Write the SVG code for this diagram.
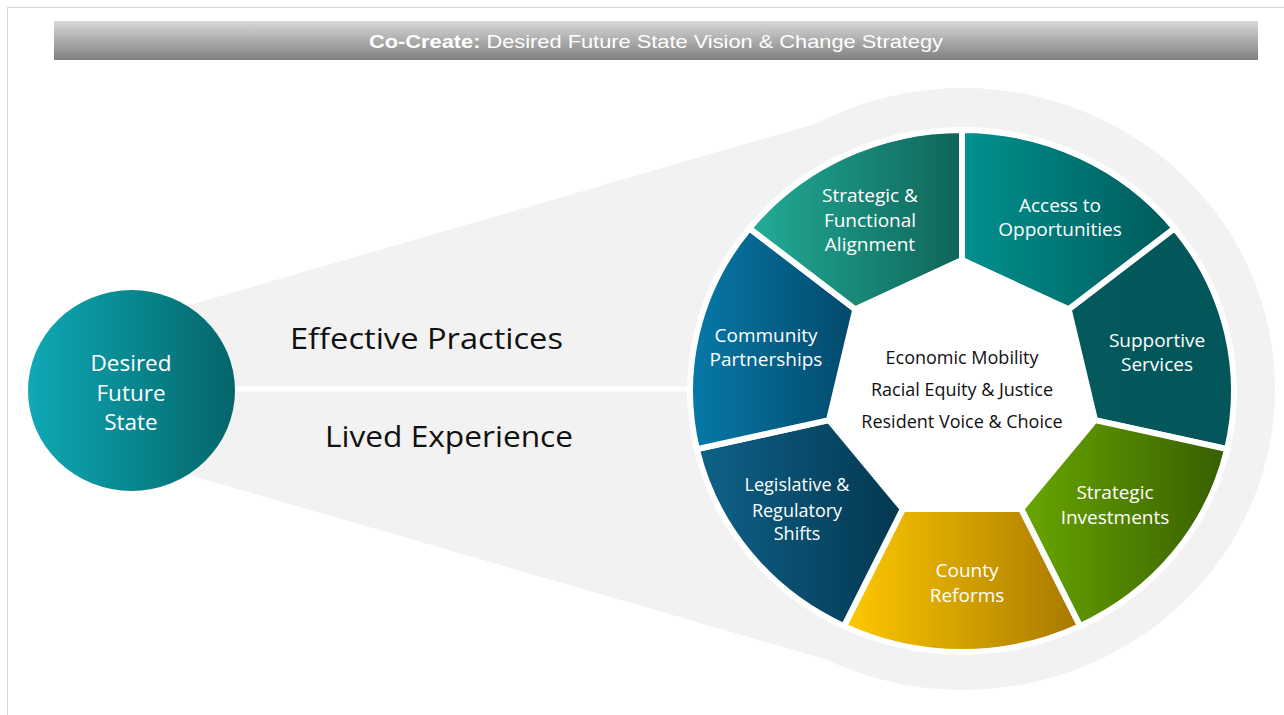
<svg xmlns="http://www.w3.org/2000/svg" width="1284" height="715" viewBox="0 0 1284 715">
  <defs>
    <linearGradient id="gTitle" x1="0" y1="0" x2="0" y2="1">
      <stop offset="0" stop-color="#d9d9d9"/>
      <stop offset="1" stop-color="#7f7f7f"/>
    </linearGradient>
    <linearGradient id="gHub" x1="0" y1="0" x2="1" y2="0">
      <stop offset="0" stop-color="#0fa9b5"/>
      <stop offset="1" stop-color="#04656a"/>
    </linearGradient>
    <linearGradient id="gAlign" x1="0" y1="0" x2="1" y2="0">
      <stop offset="0" stop-color="#22ad97"/>
      <stop offset="1" stop-color="#0f6458"/>
    </linearGradient>
    <linearGradient id="gAccess" x1="0" y1="0" x2="1" y2="0">
      <stop offset="0" stop-color="#00918f"/>
      <stop offset="1" stop-color="#01595a"/>
    </linearGradient>
    <linearGradient id="gSupport" x1="0" y1="0" x2="1" y2="0">
      <stop offset="0" stop-color="#03595b"/>
      <stop offset="1" stop-color="#02565a"/>
    </linearGradient>
    <linearGradient id="gInvest" x1="0" y1="0" x2="1" y2="0">
      <stop offset="0" stop-color="#69a700"/>
      <stop offset="1" stop-color="#375d00"/>
    </linearGradient>
    <linearGradient id="gCounty" x1="0" y1="0" x2="1" y2="0">
      <stop offset="0" stop-color="#ffc900"/>
      <stop offset="1" stop-color="#a77800"/>
    </linearGradient>
    <linearGradient id="gLegis" x1="0" y1="0" x2="1" y2="0">
      <stop offset="0" stop-color="#0f628a"/>
      <stop offset="1" stop-color="#03374f"/>
    </linearGradient>
    <linearGradient id="gCommunity" x1="0" y1="0" x2="1" y2="0">
      <stop offset="0" stop-color="#067aa9"/>
      <stop offset="1" stop-color="#03486a"/>
    </linearGradient>
  </defs>
  <style>
    .seg { stroke: #ffffff; stroke-width: 6; stroke-linejoin: miter; }
    .lbl { font-family: "Open Sans", "Noto Sans", "Liberation Sans", sans-serif; fill: #ffffff; font-size: 19px; text-anchor: middle; }
    .lbl.hub { font-size: 22.5px; }
    .lbl.small { font-size: 18px; }
    .core { font-family: "Open Sans", "Noto Sans", "Liberation Sans", sans-serif; fill: #111111; font-size: 18px; text-anchor: middle; }
    .big { font-family: "Open Sans", "Noto Sans", "Liberation Sans", sans-serif; fill: #111111; font-size: 29px; }
  </style>

  <!-- page -->
  <rect x="0" y="0" width="1284" height="715" fill="#ffffff"/>
  <rect x="7.5" y="7.5" width="1300" height="730" fill="none" stroke="#d6d6d6" stroke-width="1"/>

  <!-- title banner -->
  <g id="title">
    <rect x="54" y="21" width="1204" height="39" fill="url(#gTitle)"/>
    <text x="656" y="48" font-family="'Liberation Sans', Arial, sans-serif" font-size="19" fill="#ffffff" text-anchor="middle" textLength="574" lengthAdjust="spacingAndGlyphs"><tspan font-weight="bold">Co-Create:</tspan> Desired Future State Vision &amp; Change Strategy</text>
  </g>

  <!-- backdrop: funnel and halo -->
  <g id="backdrop" fill="#f2f2f2">
    <ellipse cx="963" cy="389" rx="312" ry="301"/>
    <polygon points="131,322 880,105 962,389 880,675 131,458"/>
  </g>

  <!-- connectors -->
  <g id="connectors">
    <line x1="200" y1="389" x2="700" y2="389" stroke="#ffffff" stroke-width="5"/>
  </g>

  <!-- source node -->
  <g id="node-desired-future-state">
    <ellipse cx="131.5" cy="390.5" rx="103.5" ry="100.5" fill="url(#gHub)"/>
    <text class="lbl hub" x="131" y="371">Desired</text>
    <text class="lbl hub" x="131" y="401">Future</text>
    <text class="lbl hub" x="131" y="430">State</text>
  </g>

  <g id="label-effective-practices">
    <text class="big" x="290" y="349" textLength="273" lengthAdjust="spacingAndGlyphs">Effective Practices</text>
  </g>
  <g id="label-lived-experience">
    <text class="big" x="325" y="447" textLength="248" lengthAdjust="spacingAndGlyphs">Lived Experience</text>
  </g>

  <!-- wheel hub (white heptagon) -->
  <polygon fill="#ffffff" points="962,260 1068.72,309.32 1095.08,420.15 1021.23,509.03 902.77,509.03 828.92,420.15 855.28,309.32"/>

  <!-- wheel segments -->
  <g id="node-access-to-opportunities">
    <path class="seg" fill="url(#gAccess)" d="M962,260 L962,130 A271.96,261 0 0 1 1174.63,228.27 L1068.72,309.32 Z"/>
    <text class="lbl" x="1060" y="212">Access to</text>
    <text class="lbl" x="1060" y="236">Opportunities</text>
  </g>
  <g id="node-supportive-services">
    <path class="seg" fill="url(#gSupport)" d="M1068.72,309.32 L1174.63,228.27 A271.96,261 0 0 1 1227.14,449.08 L1095.08,420.15 Z"/>
    <text class="lbl" x="1157" y="347">Supportive</text>
    <text class="lbl" x="1157" y="371">Services</text>
  </g>
  <g id="node-strategic-investments">
    <path class="seg" fill="url(#gInvest)" d="M1095.08,420.15 L1227.14,449.08 A271.96,261 0 0 1 1080,626.15 L1021.23,509.03 Z"/>
    <text class="lbl" x="1115" y="499">Strategic</text>
    <text class="lbl" x="1115" y="524">Investments</text>
  </g>
  <g id="node-county-reforms">
    <path class="seg" fill="url(#gCounty)" d="M1021.23,509.03 L1080,626.15 A271.96,261 0 0 1 844,626.15 L902.77,509.03 Z"/>
    <text class="lbl" x="967" y="577">County</text>
    <text class="lbl" x="967" y="602">Reforms</text>
  </g>
  <g id="node-legislative-regulatory-shifts">
    <path class="seg" fill="url(#gLegis)" d="M902.77,509.03 L844,626.15 A271.96,261 0 0 1 696.86,449.08 L828.92,420.15 Z"/>
    <text class="lbl small" x="797" y="491">Legislative &amp;</text>
    <text class="lbl small" x="797" y="517">Regulatory</text>
    <text class="lbl small" x="797" y="540">Shifts</text>
  </g>
  <g id="node-community-partnerships">
    <path class="seg" fill="url(#gCommunity)" d="M828.92,420.15 L696.86,449.08 A271.96,261 0 0 1 749.37,228.27 L855.28,309.32 Z"/>
    <text class="lbl" x="766" y="342">Community</text>
    <text class="lbl" x="766" y="366">Partnerships</text>
  </g>
  <g id="node-strategic-functional-alignment">
    <path class="seg" fill="url(#gAlign)" d="M855.28,309.32 L749.37,228.27 A271.96,261 0 0 1 962,130 L962,260 Z"/>
    <text class="lbl" x="870" y="202">Strategic &amp;</text>
    <text class="lbl" x="870" y="227">Functional</text>
    <text class="lbl" x="870" y="251">Alignment</text>
  </g>

  <!-- wheel core -->
  <g id="node-core-values">
    <text class="core" x="962" y="364">Economic Mobility</text>
    <text class="core" x="962" y="396">Racial Equity &amp; Justice</text>
    <text class="core" x="962" y="428">Resident Voice &amp; Choice</text>
  </g>
</svg>
